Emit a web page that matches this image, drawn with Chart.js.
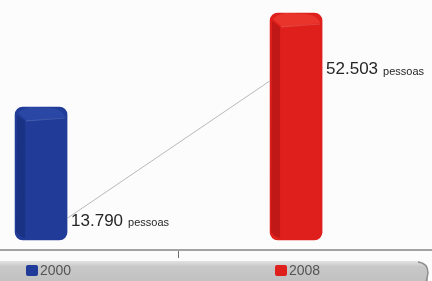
<!DOCTYPE html>
<html>
<head>
<meta charset="utf-8">
<script src="https://cdn.jsdelivr.net/npm/chart.js@4/dist/chart.umd.min.js"></script>
<style>
  html, body { margin: 0; padding: 0; background: #fcfcfc; }
  #wrap { width: 432px; height: 281px; position: relative; }
</style>
</head>
<body>
<div id="wrap"><canvas id="c"></canvas></div>
<script>
// data
const years = ["2000", "2008"];
const people = [13790, 52503];
const peopleLabels = ["13.790", "52.503"];
const unitLabel = "pessoas";
const slots = [0, 1];

const BAR_COLORS = ["#203c98", "#de1f1b"];
const BAR_DARK = ["#1a3284", "#c01816"];
const BAR_TOP = ["#2a47a6", "#e8342a"];

const fakeBars = {
  id: "fakeBars",
  afterDatasetsDraw(chart) {
    const ctx = chart.ctx;
    const meta = chart.getDatasetMeta(0);
    ctx.save();
    meta.data.forEach((bar, i) => {
      const w = bar.width;
      const left = bar.x - w / 2;
      const right = bar.x + w / 2;
      const top = bar.y;
      const base = bar.base;
      // darker left side
      ctx.fillStyle = BAR_DARK[i];
      ctx.beginPath();
      ctx.moveTo(left + 2, top + 8);
      ctx.lineTo(left + 10, top + 14);
      ctx.lineTo(left + 10, base - 2);
      ctx.quadraticCurveTo(left + 2, base - 4, left + 1, base - 10);
      ctx.closePath();
      ctx.fill();
      // top face
      ctx.fillStyle = BAR_TOP[i];
      ctx.beginPath();
      ctx.moveTo(left + 3, top + 6);
      ctx.quadraticCurveTo(left + 8, top + 1, left + 16, top);
      ctx.lineTo(right - 16, top + 1);
      ctx.quadraticCurveTo(right - 4, top + 3, right - 2, top + 10);
      ctx.lineTo(left + 12, top + 14);
      ctx.closePath();
      ctx.fill();
      ctx.strokeStyle = "rgba(255,255,255,0.15)";
      ctx.lineWidth = 1;
      ctx.beginPath();
      ctx.moveTo(left + 11, top + 14);
      ctx.lineTo(right - 2, top + 11);
      ctx.stroke();
    });

    // value labels and the thin connector line
    const f = [0.86, 0.25];
    const pts = meta.data.map((bar, i) => ({
      x: bar.x + bar.width / 2 + 4,
      y: bar.y + (bar.base - bar.y) * f[i],
    }));
    const b0 = meta.data[0], b1 = meta.data[1];
    ctx.strokeStyle = "#b9b9b9";
    ctx.lineWidth = 1;
    ctx.beginPath();
    ctx.moveTo(b0.x + b0.width / 2, pts[0].y - 3);
    ctx.lineTo(b1.x - b1.width / 2, pts[1].y + 11);
    ctx.stroke();

    ctx.textBaseline = "middle";
    ctx.fillStyle = "#262626";
    pts.forEach((p, i) => {
      ctx.font = "17px 'Liberation Sans', Arial, sans-serif";
      ctx.fillText(peopleLabels[i], p.x, p.y);
      const tw = ctx.measureText(peopleLabels[i]).width;
      ctx.font = "11px 'Liberation Sans', Arial, sans-serif";
      ctx.fillText(unitLabel, p.x + tw + 5, p.y + 2);
    });
    ctx.restore();
  },
};

const legendBand = {
  id: "legendBand",
  afterDraw(chart) {
    const ctx = chart.ctx;
    const y0 = 261, h = 22, right = 428, r = 12;
    ctx.save();
    const g = ctx.createLinearGradient(0, y0, 0, y0 + h);
    g.addColorStop(0, "#e2e2e2");
    g.addColorStop(0.25, "#c8c8c8");
    g.addColorStop(1, "#c0c0c0");
    ctx.fillStyle = g;
    ctx.beginPath();
    ctx.moveTo(0, y0);
    ctx.lineTo(right - r, y0);
    ctx.quadraticCurveTo(right, y0, right, y0 + r);
    ctx.lineTo(right, y0 + h);
    ctx.lineTo(0, y0 + h);
    ctx.closePath();
    ctx.fill();
    ctx.strokeStyle = "#8d8d8d";
    ctx.lineWidth = 1.5;
    ctx.beginPath();
    ctx.moveTo(right - r + 2, y0 + 1);
    ctx.quadraticCurveTo(right, y0 + 2, right, y0 + r);
    ctx.lineTo(right - 2, y0 + h);
    ctx.stroke();

    const itemX = [26, 275];
    years.forEach((yr, i) => {
      ctx.fillStyle = BAR_COLORS[i];
      ctx.beginPath();
      ctx.roundRect(itemX[i], 265, 12, 11, 2);
      ctx.fill();
      ctx.fillStyle = "#555555";
      ctx.font = "14px 'Liberation Sans', Arial, sans-serif";
      ctx.textBaseline = "middle";
      ctx.fillText(yr, itemX[i] + 14, 271);
    });
    ctx.restore();
  },
};

new Chart(document.getElementById("c"), {
  type: "bar",
  data: {
    datasets: [{
      label: "pessoas",
      data: slots.map((x, i) => ({ x, y: people[i] })),
      backgroundColor: BAR_COLORS,
      borderRadius: 8,
      borderSkipped: false,
      barThickness: 52,
      base: -41000,
    }],
  },
  options: {
    responsive: true,
    maintainAspectRatio: false,
    animation: false,
    layout: { padding: 0 },
    scales: {
      x: {
        type: "linear",
        offset: false,
        min: -0.161,
        max: 1.533,
        afterBuildTicks: (s) => { s.ticks = [{ value: 0.54 }]; },
        afterFit: (s) => { s.height = 31; },
        ticks: { display: false },
        grid: { offset: false, drawOnChartArea: false, tickLength: 8, color: "#6f6f6f", tickWidth: 1 },
        border: { color: "#a3a3a3", width: 2 },
      },
      y: {
        display: false,
        min: -45100,
        max: 57860,
      },
    },
    plugins: {
      legend: { display: false },
      tooltip: { enabled: false },
    },
  },
  plugins: [fakeBars, legendBand],
});
</script>
</body>
</html>
